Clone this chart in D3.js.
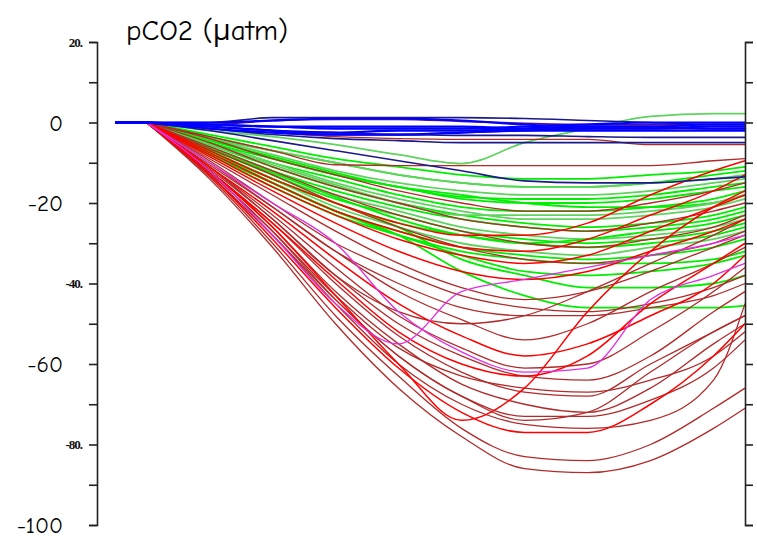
<!DOCTYPE html>
<html>
<head>
<meta charset="utf-8">
<script src="https://cdn.jsdelivr.net/npm/d3@7"></script>
<style>
  html,body{margin:0;padding:0;background:#fff;}
  svg{display:block;}
</style>
</head>
<body>
<div id="chart"></div>
<script>
// sample days (x knots) shared by every profile
const days=[0,1,3,5,7,9,11,13,15,17,19,20];
const yTicks=[20,10,0,-10,-20,-30,-40,-50,-60,-70,-80,-90,-100];
const bigLabels=[0,-20,-60,-100];
const smallLabels=[20,-40,-80];

const blueLines=[
  [0,0,0,0.5,1,1,0.5,-0.5,-1,-1,-1.5,-1.5],
  [0,0,-0.5,-1,-1,-1,-1,-1.5,-1.5,-1.5,-1,-1],
  [0,0,-1,-2,-2.5,-2,-2,-1.5,-1,-1,-0.5,-0.5],
  [0,0,-1.5,-2.5,-3,-3,-2.5,-2,-2,-2,-2,-2],
  [0,0,-0.5,-1,-1.5,-1.5,-1.5,-1,-0.5,0,0,0]
];
const navyLines=[
  [0,0,0,1.2,1.2,1.2,1.2,1,0.5,0,-0.5,-0.5],
  [0,0,-1,-2,-3,-3,-3.2,-3.2,-3.5,-3.7,-3.7,-3.7],
  [0,0,-2,-4.5,-7,-9.5,-12,-14.5,-15,-15,-14,-13.5],
  [0,0,-1.5,-3,-4,-4.5,-5,-5,-5,-5,-5,-5]
];
const purpleLines=[
  [0,0,-0.5,0.5,0.8,0.8,0.3,-0.2,-0.5,-0.5,-0.5,-0.5],
  [0,0,-1,-2,-2.5,-3,-2.5,-2,-1.5,-1.5,-1.5,-1.5]
];
const greenLines=[
  [0,0,-2,-3.5,-5.5,-8,-10.2,-5,-1.5,1.5,2.2,2.2],
  [0,0,-3,-6,-9,-11,-13,-14,-14,-13,-12,-11],
  [0,0,-3.5,-7,-10,-13,-15,-16,-16,-15,-13,-12],
  [0,0,-4,-8,-12,-15,-17,-18,-18,-17,-15,-14],
  [0,0,-4,-9,-13,-16,-19,-20,-20,-19,-17,-16],
  [0,0,-5,-10,-14,-18,-21,-22,-22,-21,-19,-17],
  [0,0,-5,-10,-15,-19,-22,-24,-24,-23,-21,-19],
  [0,0,-5.5,-11,-16,-20,-23,-25,-26,-25,-23,-21],
  [0,0,-6,-12,-17,-21,-24,-26,-27,-26,-24,-22],
  [0,0,-6,-12,-18,-22,-26,-28,-29,-28,-26,-24],
  [0,0,-6.5,-13,-19,-23,-27,-29,-30,-29,-27,-25],
  [0,0,-7,-14,-20,-25,-28,-30,-31,-30,-28,-26],
  [0,0,-7,-14,-21,-26,-30,-32,-33,-31,-29,-27],
  [0,0,-7.5,-15,-22,-27,-31,-33,-34,-33,-31,-29],
  [0,0,-8,-16,-23,-28,-32,-34,-35,-35,-34,-32],
  [0,0,-8,-15,-22,-28,-37,-43,-46,-46,-46,-45.5],
  [0,0,-7,-15,-22,-28,-33,-37,-38,-37,-35,-33],
  [0,0,-4,-7,-10,-13,-15,-16,-16,-15,-14,-13],
  [0,0,-5,-9,-13,-16,-18,-20,-21,-21,-20,-18],
  [0,0,-4.5,-8.5,-12.5,-16,-18.5,-19,-19,-18,-16,-15],
  [0,0,-5.5,-10.5,-15.5,-20,-23,-23,-23,-22,-20,-18],
  [0,0,-6.5,-12.5,-18.5,-24,-28,-30,-29,-27,-25,-23],
  [0,0,-7,-14,-20,-26,-34,-38,-41,-41,-40,-38]
];
const paleGreen=[0,3,6,9,12,17,20];
const darkRedLines=[
  [0,0,-1.5,-2.5,-3.5,-4,-4.2,-4.2,-4.2,-5.5,-5.5,-5.5],
  [0,0,-3.5,-7,-10.5,-10.7,-10.7,-10.7,-10.7,-10.7,-9.5,-9],
  [0,0,-4,-9,-13,-17,-20,-22,-22,-20,-17,-15],
  [0,0,-5,-11,-16,-20,-24,-26,-27,-25,-22,-20],
  [0,0,-6,-12,-18,-23,-27,-30,-31,-29,-26,-23],
  [0,0,-6.5,-13,-20,-26,-31,-34,-35,-33,-30,-27],
  [0,0,-14,-31,-50,-66,-78,-86,-87,-84,-76,-71],
  [0,0,-13.5,-30,-48,-63,-76,-83,-84,-80,-71,-66],
  [0,0,-13,-28,-45,-60,-70,-75,-76,-74,-64,-45],
  [0,0,-12.5,-27,-44,-58,-68,-74,-72,-62,-52,-48],
  [0,0,-12,-26,-42,-55,-65,-70,-72,-66,-55,-50],
  [0,0,-12,-25,-40,-53,-62,-67,-68,-60,-52,-48],
  [0,0,-11.5,-24,-38,-50,-58,-63,-64,-58,-47,-42],
  [0,0,-11,-23,-36,-48,-56,-61,-60,-52,-42,-36],
  [0,0,-10.5,-21,-32,-42,-49,-54,-50,-42,-35,-31],
  [0,0,-10,-21,-32,-40,-46,-48,-48,-46,-43,-40],
  [0,0,-9.5,-20,-30,-37,-43,-46,-47,-45,-41,-38],
  [0,0,-9,-18,-27,-35,-41,-44,-42,-37,-31,-28],
  [0,0,-12.5,-27,-43,-56,-63,-66,-67,-64,-58,-52],
  [0,0,-13,-28,-44,-58,-68,-73,-73,-69,-61,-54],
  [0,0,-11,-24,-38,-47,-50,-48,-42,-35,-28,-24]
];
const redLines=[
  [0,0,-13,-29,-46,-61,-72,-77,-77,-70,-58,-50],
  [0,0,-11,-22,-34,-45,-53,-58,-55,-48,-40,-33],
  [0,0,-12,-26,-43,-60,-74,-66,-47,-32,-21,-17],
  [0,0,-8.5,-17,-25,-32,-37,-39,-37,-32,-27,-24],
  [0,0,-8,-16,-23,-29,-33,-35,-33,-27,-21,-18],
  [0,0,-7.5,-15,-22,-27,-31,-32,-29,-23,-17,-13],
  [0,0,-7,-14,-20,-25,-28,-28,-25,-18,-12,-9.5],
  [0,0,-12,-25,-39,-52,-60,-63,-58,-45,-35,-30]
];
const magentaLines=[
  [0,0,-10,-20,-30,-47,-57,-62,-61,-44,-38,-35],
  [0,0,-12,-28,-45,-55,-42,-39,-36,-33,-30,-28]
];

const W=757,H=539;
const svg=d3.select("#chart").append("svg").attr("width",W).attr("height",H);
const x=d3.scaleLinear().domain([0,20]).range([115,745]);
const y=d3.scaleLinear().domain([-100,20]).range([525,42]);
// flat lead-in drawn straight, the rest smoothed
const lead=d3.line().x(p=>x(p[0])).y(p=>y(p[1]));
const body=d3.line().x(p=>x(p[0])).y(p=>y(p[1])).curve(d3.curveMonotoneX);
const path=d=>{
  const pts=d.map((v,i)=>[days[i],v]);
  return lead(pts.slice(0,2))+body(pts.slice(1));
};

const plot=svg.append("g");
function draw(list,color,w){
  plot.append("g").selectAll("path").data(list).join("path")
    .attr("d",path).attr("fill","none")
    .attr("stroke",typeof color==="function"?color:()=>color)
    .attr("stroke-width",w);
}
draw(greenLines,(d,i)=>paleGreen.includes(i)?"#5fd35f":"#00ee00",1.8);
draw(darkRedLines,"#b22a2a",1.3);
draw(redLines,"#ff0000",1.5);
draw(magentaLines,"#e030e0",1.3);
draw(purpleLines,"#5a0f8c",1.8);
draw(navyLines,"#1a1a8c",1.6);
draw(blueLines,"#0000ff",2.2);

// left axis
const left=svg.append("g").attr("transform","translate(97,0)")
  .call(d3.axisLeft(y).tickValues(yTicks).tickSize(8).tickFormat(""));
left.select(".domain").attr("stroke","#222").attr("stroke-width",1.6);
left.selectAll(".tick line").attr("stroke","#222").attr("stroke-width",1.6);

// right axis
const right=svg.append("g").attr("transform","translate(745,0)")
  .call(d3.axisRight(y).tickValues(yTicks).tickSize(8).tickFormat(""));
right.select(".domain").attr("stroke","#222").attr("stroke-width",1.6);
right.selectAll(".tick line").attr("stroke","#222").attr("stroke-width",1.6);

svg.append("g").selectAll("text").data(bigLabels).join("text")
  .attr("x",63).attr("y",d=>y(d)).attr("dy","0.36em")
  .attr("text-anchor","end")
  .attr("font-family","'Comic Sans MS','Comic Neue','Open Sans',sans-serif")
  .attr("font-size",23).attr("fill","#000").text(d=>d);

svg.append("g").selectAll("text").data(smallLabels).join("text")
  .attr("x",82).attr("y",d=>y(d)).attr("dy","0.35em")
  .attr("text-anchor","end")
  .attr("font-family","'Liberation Serif',serif").attr("font-weight","bold")
  .attr("font-size",13).attr("letter-spacing",-1).attr("fill","#111")
  .text(d=>d+".");

svg.append("text").attr("x",126).attr("y",40)
  .attr("font-family","'Comic Sans MS','Comic Neue','Open Sans',sans-serif")
  .attr("font-size",29).attr("fill","#000").text("pCO2 (\u03bcatm)");
</script>
</body>
</html>
